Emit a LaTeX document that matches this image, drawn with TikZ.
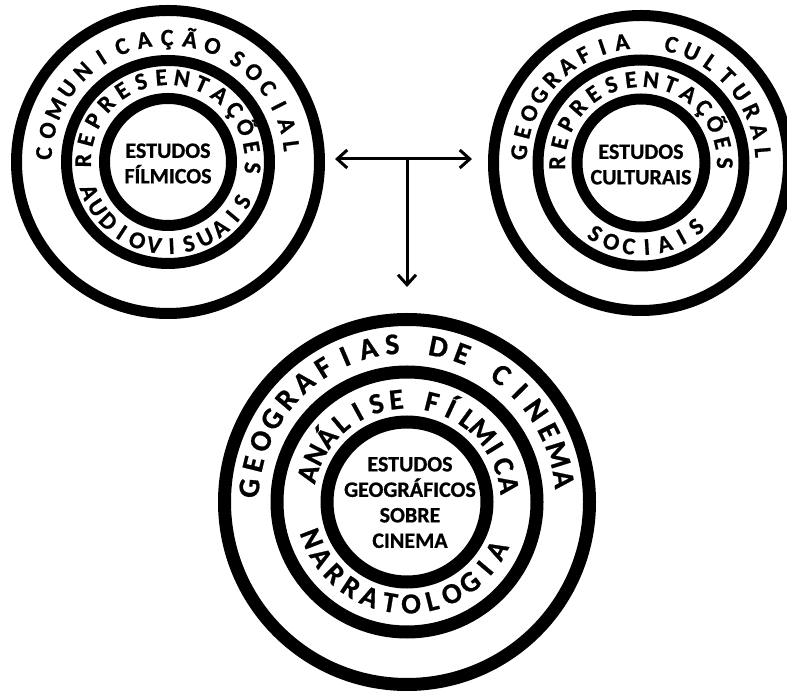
\documentclass[tikz,border=0pt]{standalone}
\usepackage{fontspec}
\setmainfont{Carlito}[BoldFeatures={FakeBold=0.8}]
\usetikzlibrary{arrows.meta}
\tikzset{
  ringline/.style={line width=11pt},
  ringlineB/.style={line width=13pt},
  lt/.style={font=\fontsize{24}{26}\selectfont\bfseries, inner sep=0pt, anchor=base},
  ltB/.style={font=\fontsize{30}{32}\selectfont\bfseries, inner sep=0pt, anchor=base},
  ltBm/.style={font=\fontsize{29}{31}\selectfont\bfseries, inner sep=0pt, anchor=base},
  centertxt/.style={font=\fontsize{22}{25.5}\selectfont\bfseries, align=center, inner sep=0pt},
  arr/.style={line width=3pt, -{Straight Barb[length=10pt,width=18pt]}},
}
% #1 style, #2 name prefix, #3 centre, #4 radius, #5 start angle, #6 end angle, #7 letters, #8 rotation offset
\newcommand{\arcword}[8]{%
  \foreach \ch [count=\k] in {#7} {\xdef\nlet{\k}}%
  \foreach \ch [count=\k from 0] in {#7} {%
    \pgfmathsetmacro\ang{#5+(#6-#5)*\k/(\nlet-1)}%
    \node[#1, rotate={\ang+(#8)}, name=#2-\k] at ([shift={(\ang:#4)}]#3) {\ch};
  }%
}
\begin{document}
\begin{tikzpicture}[x=1pt,y=1pt]
\useasboundingbox (0,0) rectangle (787,691);
\clip (0,0) rectangle (787,691);
\coordinate (TL) at (168,529);
\coordinate (TR) at (641,528);
\coordinate (BC) at (407,189);
% circles
\draw[ringline] (TL) circle (151.5);
\draw[ringline] (TL) circle (101.5);
\draw[ringline] (TL) circle (63.5);
\draw[ringline] (TR) circle (147.5);
\draw[ringline] (TR) circle (103);
\draw[ringline] (TR) circle (64);
\draw[ringlineB] (BC) circle (182.5);
\draw[ringlineB] (BC) circle (130);
\draw[ringlineB] (BC) circle (80);
% top-left ring texts
\arcword{lt}{tlo1}{TL}{116.5}{176}{69}{C,O,M,U,N,I,C,A,Ç,Ã,O}{-90}
\arcword{lt}{tlo2}{TL}{116.5}{56}{7.5}{S,O,C,I,A,L}{-90}
\arcword{lt}{tlm1}{TL}{77}{179}{-4}{R,E,P,R,E,S,E,N,T,A,Ç,Õ,E,S}{-90}
\arcword{lt}{tlm2}{TL}{92}{201}{332}{A,U,D,I,O,V,I,S,U,A,I,S}{90}
% top-right ring texts
\arcword{lt}{tro1}{TR}{114.5}{175}{99}{G,E,O,G,R,A,F,I,A}{-90}
\arcword{lt}{tro2}{TR}{114.5}{75.6}{5}{C,U,L,T,U,R,A,L}{-90}
\arcword{lt}{trm1}{TR}{76}{180}{0}{R,E,P,R,E,S,E,N,T,A,Ç,Õ,E,S}{-90}
\arcword{lt}{trm2}{TR}{92}{237}{311}{S,O,C,I,A,I,S}{90}
% bottom ring texts
\arcword{ltB}{bo1}{BC}{148.5}{175}{95.4}{G,E,O,G,R,A,F,I,A,S}{-90}
\arcword{ltB}{bo2}{BC}{148.5}{78.5}{69.6}{D,E}{-90}
\arcword{ltB}{bo3}{BC}{148.5}{53.5}{8.3}{C,I,N,E,M,A}{-90}
\arcword{ltBm}{bm1}{BC}{93.5}{164}{96}{A,N,Á,L,I,S,E}{-90}
\arcword{ltBm}{bm2}{BC}{93.5}{76}{9.5}{F,Í,L,M,I,C,A}{-90}
\arcword{ltBm}{bm3}{BC}{111.5}{201}{331.7}{N,A,R,R,A,T,O,L,O,G,I,A}{90}
% centre texts
\node[centertxt] (tlc) at (168,527.5) {ESTUDOS\\FÍLMICOS};
\node[centertxt] (trc) at (641,526.5) {ESTUDOS\\CULTURAIS};
\node[centertxt] (bcc) at (410,188.5) {ESTUDOS\\GEOGRÁFICOS\\SOBRE\\CINEMA};
% arrows
\coordinate (J) at (407,532);
\coordinate (AL) at (335,532);
\coordinate (AR) at (472,532);
\coordinate (AD) at (407,404);
\draw[arr] (J) -- (AL);
\draw[arr] (J) -- (AR);
\draw[arr] (J) -- (AD);
\end{tikzpicture}
\end{document}
